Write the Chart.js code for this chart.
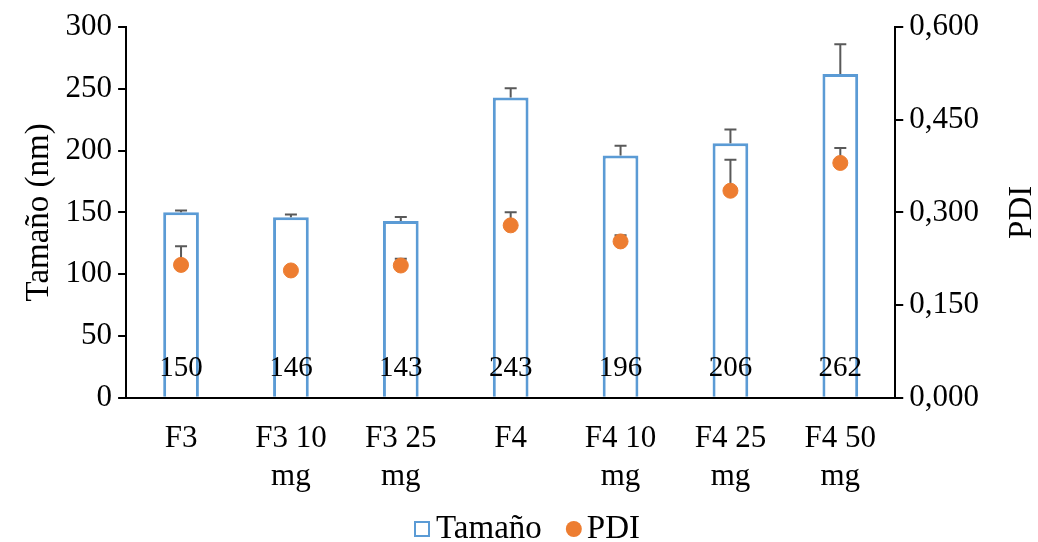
<!DOCTYPE html>
<html>
<head>
<meta charset="utf-8">
<script src="https://cdn.jsdelivr.net/npm/chart.js@4"></script>
<style>
  html, body { margin: 0; padding: 0; background: #fff; }
  #wrap { width: 1038px; height: 542px; }
</style>
</head>
<body>
<div id="wrap"><canvas id="chart-combo"></canvas></div>
<script>
const categories = ["F3", ["F3 10", "mg"], ["F3 25", "mg"], "F4", ["F4 10", "mg"], ["F4 25", "mg"], ["F4 50", "mg"]];
const sizeValues = [150, 146, 143, 243, 196, 206, 262];
const sizeErrors = [1.5, 2.3, 3.2, 7.5, 8, 11, 24];
const pdiValues = [0.215, 0.206, 0.214, 0.279, 0.253, 0.335, 0.380];
const pdiErrors = [0.030, 0.003, 0.011, 0.021, 0.010, 0.050, 0.024];

const FONT = "'Liberation Serif', 'Times New Roman', serif";
const TICK_FS = 31;
const TITLE_FS = 33;
const LABEL_FS = 29;
const BLUE = "#5B9BD5";
const ORANGE = "#ED7D31";

// error bars + value labels, drawn right after the bars so the dots stay on top
const extrasPlugin = {
  id: "extras",
  afterDatasetDraw(chart, args) {
    if (args.index !== 0) return;
    const ctx = chart.ctx;
    const y = chart.scales.y;
    const y1 = chart.scales.y1;
    const bars = chart.getDatasetMeta(0).data;
    const dots = chart.getDatasetMeta(1).data;
    ctx.save();
    ctx.strokeStyle = "#595959";
    ctx.lineWidth = 2;
    const drawErr = (x, from, to) => {
      ctx.beginPath();
      ctx.moveTo(x, from);
      ctx.lineTo(x, to);
      ctx.moveTo(x - 6, to);
      ctx.lineTo(x + 6, to);
      ctx.stroke();
    };
    for (let i = 0; i < sizeValues.length; i++) {
      drawErr(bars[i].x, y.getPixelForValue(sizeValues[i]), y.getPixelForValue(sizeValues[i] + sizeErrors[i]));
      drawErr(dots[i].x, y1.getPixelForValue(pdiValues[i]), y1.getPixelForValue(pdiValues[i] + pdiErrors[i]));
    }
    // value labels near the base of each bar
    ctx.fillStyle = "#000";
    ctx.font = LABEL_FS + "px " + FONT;
    ctx.textAlign = "center";
    ctx.textBaseline = "middle";
    for (let i = 0; i < sizeValues.length; i++) {
      ctx.fillText(String(sizeValues[i]), bars[i].x, y.getPixelForValue(0) - 29);
    }
    ctx.restore();
  },
  afterDraw(chart) {
    const ctx = chart.ctx;
    const y1 = chart.scales.y1;
    ctx.save();
    // right axis title, reading bottom to top like the left one
    ctx.translate(1022, (y1.top + y1.bottom) / 2);
    ctx.rotate(-Math.PI / 2);
    ctx.fillStyle = "#000";
    ctx.font = TITLE_FS + "px " + FONT;
    ctx.textAlign = "center";
    ctx.textBaseline = "middle";
    ctx.fillText("PDI", 0, 0);
    ctx.restore();

    // legend (Excel-like spacing, the built-in one pads too much vertically)
    ctx.save();
    ctx.font = TITLE_FS + "px " + FONT;
    ctx.textBaseline = "middle";
    ctx.fillStyle = "#000";
    const names = chart.data.datasets.map((d) => d.label);
    const w0 = ctx.measureText(names[0]).width;
    const w1 = ctx.measureText(names[1]).width;
    const total = 16 + 6 + w0 + 24 + 16 + 5 + w1;
    let x = 527 - total / 2;
    const ly = 529;
    ctx.strokeStyle = BLUE;
    ctx.lineWidth = 2;
    ctx.fillStyle = "#fff";
    ctx.fillRect(x, ly - 8, 16, 16);
    ctx.strokeRect(x + 1, ly - 7, 14, 14);
    x += 22;
    ctx.fillStyle = "#000";
    ctx.fillText(names[0], x, ly);
    x += w0 + 24;
    ctx.fillStyle = ORANGE;
    ctx.beginPath();
    ctx.arc(x + 8, ly, 8, 0, Math.PI * 2);
    ctx.fill();
    x += 21;
    ctx.fillStyle = "#000";
    ctx.fillText(names[1], x, ly);
    ctx.restore();
  },
};

const ctx = document.getElementById("chart-combo");
new Chart(ctx, {
  data: {
    labels: categories,
    datasets: [
      {
        type: "bar",
        label: "Tamaño",
        data: sizeValues,
        backgroundColor: "#fff",
        borderColor: BLUE,
        borderWidth: 3,
        barPercentage: 0.325,
        categoryPercentage: 1,
        yAxisID: "y",
        order: 2,
      },
      {
        type: "line",
        label: "PDI",
        data: pdiValues,
        showLine: false,
        pointRadius: 7.5,
        pointHoverRadius: 7.5,
        pointBackgroundColor: ORANGE,
        pointBorderColor: ORANGE,
        backgroundColor: ORANGE,
        borderColor: ORANGE,
        yAxisID: "y1",
        order: 1,
      },
    ],
  },
  options: {
    responsive: true,
    maintainAspectRatio: false,
    animation: false,
    layout: { padding: { top: 27, right: 53, left: 20, bottom: 32 } },
    plugins: {
      tooltip: { enabled: false },
      legend: { display: false },
    },
    scales: {
      x: {
        grid: { display: false },
        border: { display: true, color: "#000", width: 2 },
        ticks: { color: "#000", font: { family: FONT, size: TICK_FS, lineHeight: 1.23 }, maxRotation: 0, autoSkip: false, padding: 14 },
      },
      y: {
        position: "left",
        min: 0,
        max: 300,
        ticks: { stepSize: 50, color: "#000", font: { family: FONT, size: TICK_FS }, padding: 6 },
        grid: { drawOnChartArea: false, drawTicks: true, tickLength: 8, color: "#000", lineWidth: 2 },
        border: { color: "#000", width: 2 },
        title: { display: true, text: "Tamaño (nm)", color: "#000", font: { family: FONT, size: TITLE_FS }, padding: 0 },
      },
      y1: {
        position: "right",
        min: 0,
        max: 0.6,
        ticks: {
          stepSize: 0.15,
          color: "#000",
          font: { family: FONT, size: TICK_FS },
          padding: 6,
          callback: (v) => v.toFixed(3).replace(".", ","),
        },
        grid: { drawOnChartArea: false, drawTicks: true, tickLength: 8, color: "#000", lineWidth: 2 },
        border: { color: "#000", width: 2 },
      },
    },
  },
  plugins: [extrasPlugin],
});
</script>
</body>
</html>
